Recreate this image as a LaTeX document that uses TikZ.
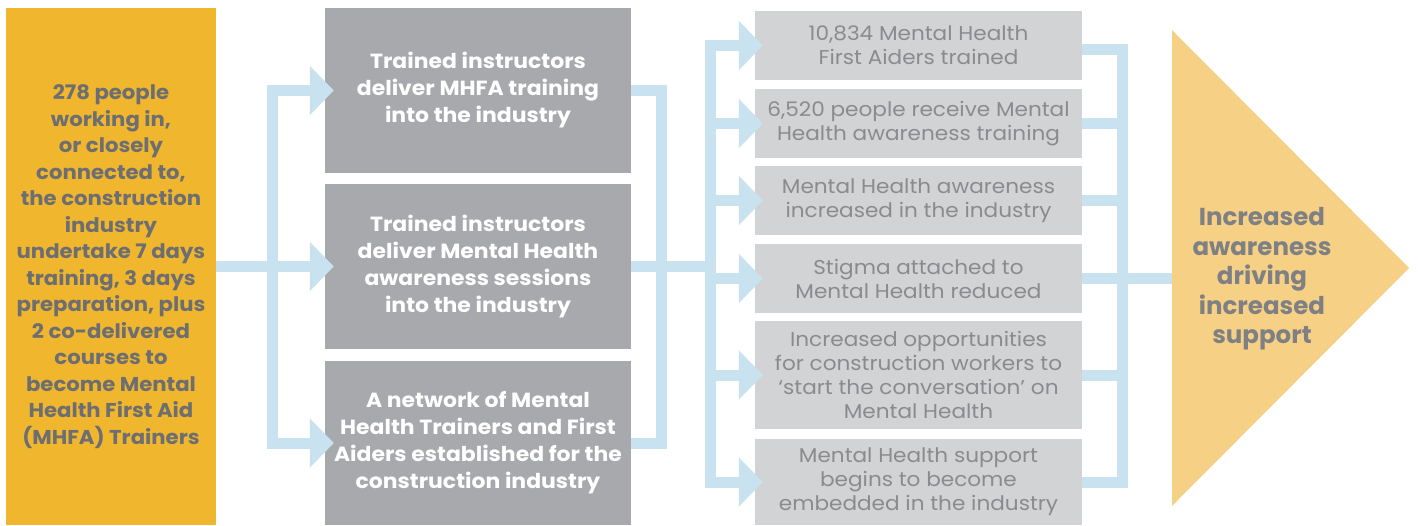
\documentclass[tikz,border=0pt]{standalone}
\usepackage{fontspec}
\setmainfont{Poppins}
\usetikzlibrary{arrows.meta,calc}
\definecolor{cyellow}{HTML}{F0B62E}
\definecolor{cgray}{HTML}{A7A9AC}
\definecolor{clight}{HTML}{D1D3D4}
\definecolor{cblue}{HTML}{C8E3EF}
\definecolor{ctri}{HTML}{F6D084}
\definecolor{ctext}{HTML}{6D6E71}
\definecolor{ctextl}{HTML}{8A8B8E}
\definecolor{ctextr}{HTML}{7F8084}
\tikzset{
  ybox/.style={fill=cyellow, inner sep=0pt, minimum width=210pt, minimum height=517pt, align=center, text=ctext,
    font=\fontsize{20}{26.5}\selectfont\bfseries\addfontfeatures{FakeStretch=1.06}},
  gbox/.style={fill=cgray, inner sep=0pt, minimum width=306pt, align=center, text=white,
    font=\fontsize{20.5}{27}\selectfont\bfseries\addfontfeatures{FakeStretch=1.07}},
  lbox/.style={fill=clight, inner sep=0pt, minimum width=327pt, align=center, text=ctextl,
    font=\fontsize{20}{24}\selectfont\addfontfeatures{FakeStretch=1.08}},
  bar/.style={draw=cblue, line width=11pt, line join=miter},
  arr/.style={bar, -{Triangle[length=24pt,width=48pt]}},
}
\begin{document}
\begin{tikzpicture}[x=1pt,y=-1pt]
\useasboundingbox (0,0) rectangle (1418,525);
% column 1
\node[ybox] (src) at (111,266.5) {278 people\\working in,\\or closely\\connected to,\\the construction\\industry\\undertake 7 days\\training, 3 days\\preparation, plus\\2 co-delivered\\courses to\\become Mental\\Health First Aid\\(MHFA) Trainers};
% column 2
\node[gbox, minimum height=165pt] (g1) at (478,90.5) {Trained instructors\\deliver MHFA training\\into the industry};
\node[gbox, minimum height=165pt] (g2) at (478,266.5) {Trained instructors\\deliver Mental Health\\awareness sessions\\into the industry};
\node[gbox, minimum height=164pt] (g3) at (478,443) {A network of Mental\\Health Trainers and First\\Aiders established for the\\construction industry};
% column 3
\node[lbox, minimum height=69pt] (c1) at (918.5,45.5) {10,834 Mental Health\\First Aiders trained};
\node[lbox, minimum height=69pt] (c2) at (918.5,123.5) {6,520 people receive Mental\\Health awareness training};
\node[lbox, minimum height=69pt] (c3) at (918.5,200.5) {Mental Health awareness\\increased in the industry};
\node[lbox, minimum height=69pt] (c4) at (918.5,278.5) {Stigma attached to\\Mental Health reduced};
\node[lbox, minimum height=108pt] (c5) at (918.5,375) {Increased opportunities\\for construction workers to\\‘start the conversation’ on\\Mental Health};
\node[lbox, minimum height=86pt] (c6) at (918.5,482) {Mental Health support\\begins to become\\embedded in the industry};
% outcome
\fill[ctri] (1172,30) -- (1409,268) -- (1172,506) -- cycle;
\node[text=ctextr, align=center, font=\fontsize{24.5}{29.5}\selectfont\bfseries] (out) at (1262,279) {Increased\\awareness\\driving\\increased\\support};
\coordinate (tw) at (1172,278);
% junctions
\coordinate (j1) at (272,266.5);
\coordinate (j2) at (661,266.5);
\coordinate (j3) at (710.5,266.5);
\coordinate (j4) at (1122,278);
% connectors col1 -> col2
\draw[arr, shorten >=-9pt] (src.east) -- (g2.west);
\draw[arr, shorten >=-9pt] (j1) |- (g1.west);
\draw[arr, shorten >=-9pt] (j1) |- (g3.west);
% col2 -> col3
\draw[bar] (g1.east) -| (j2) |- (g3.east);
\draw[bar] (g2.east) -- (j3);
\foreach \c in {c1,c2,c3,c4,c5,c6}
  \draw[arr, shorten >=-8pt] (j3) |- (\c.west);
% col3 -> outcome
\draw[bar] ($(c1.east)+(0,4)$) -| (j4);
\foreach \c in {c2,c3,c4,c5}
  \draw[bar] (\c.east) -| (j4);
\draw[bar] (c6.east) -| (j4);
\draw[bar] (j4) -- (tw);
\end{tikzpicture}
\end{document}
